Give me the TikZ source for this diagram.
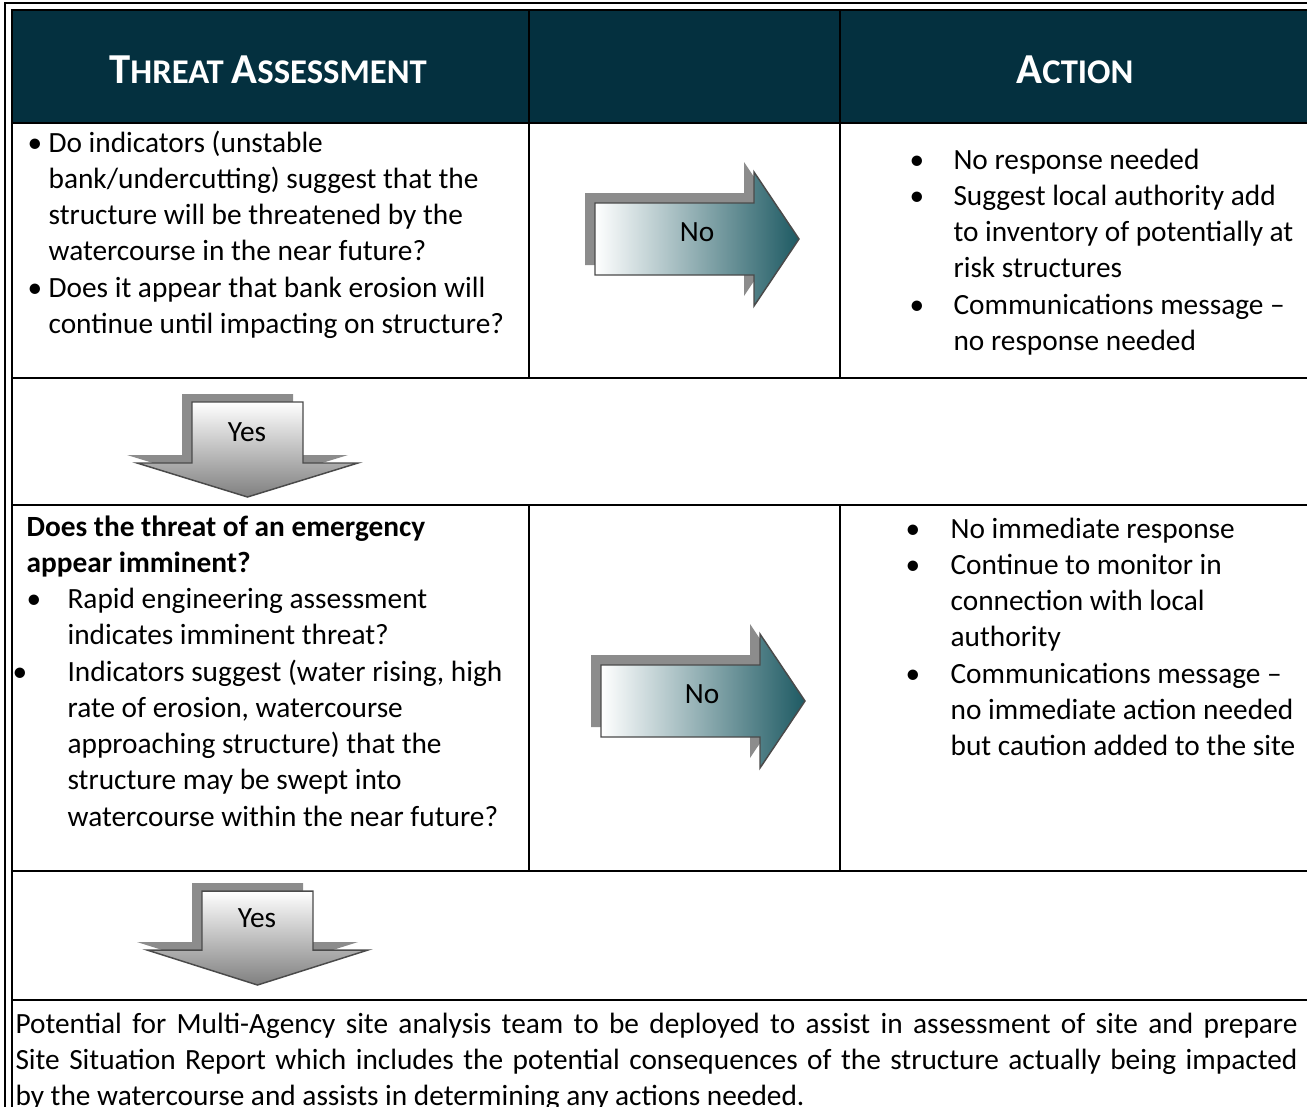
\documentclass[tikz,border=0pt]{standalone}
\usepackage{fontspec}
\setmainfont{Carlito}
\usetikzlibrary{positioning}
\definecolor{headteal}{HTML}{04303F}
\definecolor{arrowteal}{HTML}{1E5A63}
\definecolor{arrowmid}{HTML}{D8DDDE}
\definecolor{arrowline}{HTML}{4A4A4A}
\newcommand\hcap[1]{{\fontsize{16}{19}\selectfont#1}}
\tikzset{
  frame line/.style={line width=0.8pt},
  grid line/.style={line width=1pt},
  head text/.style={text=white, inner sep=0pt, font=\bfseries\fontsize{13}{16}\selectfont},
  cell text/.style={anchor=base west, inner sep=0pt, font=\fontsize{11}{13.6}\selectfont},
  right arrow/.style={draw=arrowline, line width=0.55pt, left color=white, middle color=arrowmid, right color=arrowteal},
  down arrow/.style={draw=arrowline, line width=0.55pt, top color=white, bottom color=black!50},
  arrow shadow/.style={fill=black!45},
  arrow label/.style={inner sep=0pt, font=\fontsize{11}{13.6}\selectfont},
}

\begin{document}
\begin{tikzpicture}[x=0.375pt,y=-0.375pt]
    \useasboundingbox (0,0) rectangle (1307,1106);
    \clip (0,0) rectangle (1307,1106);
    % header band and frame
    \fill[headteal] (12,10) rectangle (1320,123);
    \draw[frame line] (5,1120) -- (5,3) -- (1320,3);
    \draw[frame line] (12,1120) -- (12,10) -- (1320,10);
    \draw[grid line] (12,123) -- (1320,123);
    \draw[grid line] (12,378) -- (1320,378);
    \draw[grid line] (12,505) -- (1320,505);
    \draw[grid line] (12,871) -- (1320,871);
    \draw[grid line] (12,1000) -- (1320,1000);
    \draw[grid line] (529,10) -- (529,378);
    \draw[grid line] (840,10) -- (840,378);
    \draw[grid line] (529,505) -- (529,871);
    \draw[grid line] (840,505) -- (840,871);

    \node[head text] (threat) at (268,70) {\hcap{T}HREAT \hcap{A}SSESSMENT};
    \node[head text] (action) at (1075,70) {\hcap{A}CTION};

    % first question
    \node[cell text] (ask1) at (27,152) {\begin{tabular}[t]{@{}p{7.9pt}@{}l@{}}
        \textbullet & Do indicators (unstable\\
         & bank/undercutting) suggest that the\\
         & structure will be threatened by the\\
         & watercourse in the near future?\\
        \textbullet & Does it appear that bank erosion will\\
         & continue until impacting on structure?
    \end{tabular}};
    \node[cell text] (act1) at (909,169) {\begin{tabular}[t]{@{}p{16.5pt}@{}l@{}}
        \textbullet & No response needed\\
        \textbullet & Suggest local authority add\\
         & to inventory of potentially at\\
         & risk structures\\
        \textbullet & Communications message --\\
         & no response needed
    \end{tabular}};

    % second question
    \node[cell text] (ask2) at (26,536) {\begin{tabular}[t]{@{}p{15.4pt}@{}l@{}}
        \multicolumn{2}{@{}l@{}}{\bfseries Does the threat of an emergency}\\
        \multicolumn{2}{@{}l@{}}{\bfseries appear imminent?}\\
        \textbullet & Rapid engineering assessment\\
         & indicates imminent threat?\\
        \hspace*{-5.25pt}\textbullet & Indicators suggest (water rising, high\\
         & rate of erosion, watercourse\\
         & approaching structure) that the\\
         & structure may be swept into\\
         & watercourse within the near future?
    \end{tabular}};
    \node[cell text] (act2) at (905,538) {\begin{tabular}[t]{@{}p{16.9pt}@{}l@{}}
        \textbullet & No immediate response\\
        \textbullet & Continue to monitor in\\
         & connection with local\\
         & authority\\
        \textbullet & Communications message --\\
         & no immediate action needed\\
         & but caution added to the site
    \end{tabular}};

    % final step
    \node[cell text] (report) at (15,1033) {\parbox[t]{480.75pt}{\hyphenpenalty=10000
        Potential for Multi-Agency site analysis team to be deployed to assist in assessment of site and prepare\linebreak
        Site Situation Report which includes the potential consequences of the structure actually being impacted\linebreak
        by the watercourse and assists in determining any actions needed.}};

    % No arrows
    \fill[arrow shadow, shift={(585,229)}] (0,-36) -- (159,-36) -- (159,-67) -- (204,0) -- (159,67) -- (159,36) -- (0,36) -- cycle;
    \draw[right arrow, shift={(595,239)}] (0,-36) -- (159,-36) -- (159,-67) -- (204,0) -- (159,67) -- (159,36) -- (0,36) -- cycle;
    \node[arrow label] (no1) at (697,232) {No};
    \fill[arrow shadow, shift={(591,691)}] (0,-36) -- (159,-36) -- (159,-67) -- (204,0) -- (159,67) -- (159,36) -- (0,36) -- cycle;
    \draw[right arrow, shift={(601,701)}] (0,-36) -- (159,-36) -- (159,-67) -- (204,0) -- (159,67) -- (159,36) -- (0,36) -- cycle;
    \node[arrow label] (no2) at (702,694) {No};

    % Yes arrows
    \fill[arrow shadow, shift={(237.5,394)}] (-55.5,0) -- (55.5,0) -- (55.5,61) -- (110.5,61) -- (0,95) -- (-110.5,61) -- (-55.5,61) -- cycle;
    \draw[down arrow, shift={(247.5,402)}] (-55.5,0) -- (55.5,0) -- (55.5,61) -- (110.5,61) -- (0,95) -- (-110.5,61) -- (-55.5,61) -- cycle;
    \node[arrow label] (yes1) at (247,432) {Yes};
    \fill[arrow shadow, shift={(247.5,883)}] (-55.5,0) -- (55.5,0) -- (55.5,59) -- (110.5,59) -- (0,94) -- (-110.5,59) -- (-55.5,59) -- cycle;
    \draw[down arrow, shift={(257.5,891)}] (-55.5,0) -- (55.5,0) -- (55.5,59) -- (110.5,59) -- (0,94) -- (-110.5,59) -- (-55.5,59) -- cycle;
    \node[arrow label] (yes2) at (257,918) {Yes};
\end{tikzpicture}
\end{document}
